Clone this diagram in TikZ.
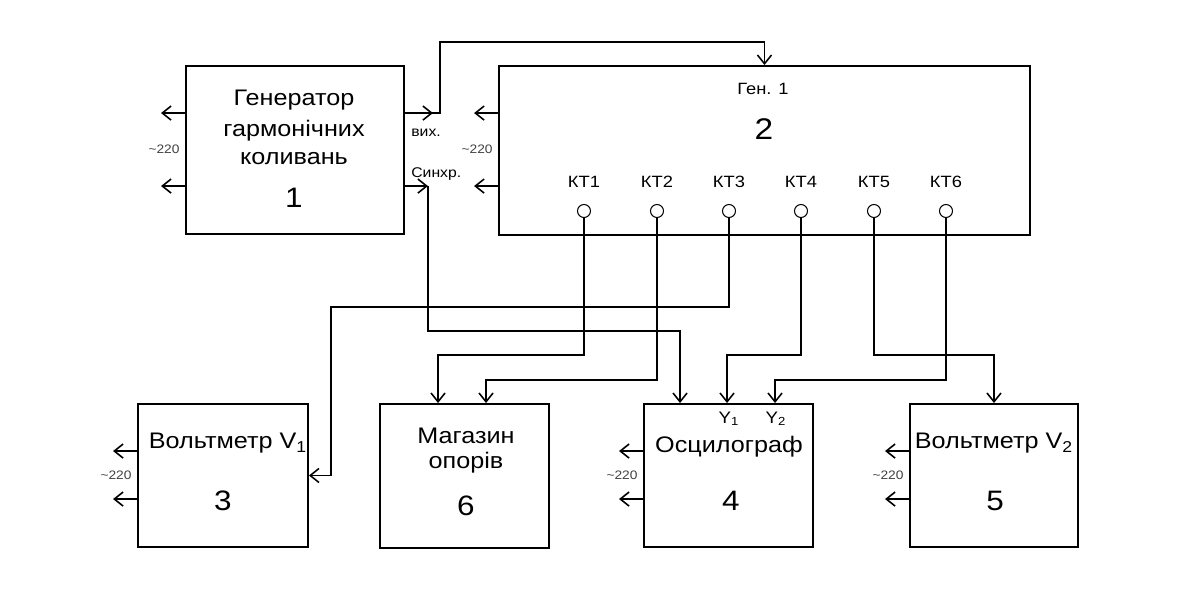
\documentclass[tikz,border=0pt]{standalone}
\usepackage{fontspec}
\setmainfont{Liberation Sans}[FakeStretch=1.12]
\usetikzlibrary{arrows.meta}

\tikzset{
	blok/.style   = {draw, line width=1.1pt, inner sep=0pt},
	wire/.style   = {line width=0.9pt},
	txt/.style    = {font=\fontsize{12.8}{14}\selectfont, anchor=base, inner sep=0pt},
	cifra/.style  = {font=\fontsize{16}{18}\selectfont, anchor=base, inner sep=0pt},
	port/.style   = {font=\fontsize{8}{9}\selectfont, anchor=base west, inner sep=0pt},
	mere/.style   = {font=\fontsize{7}{8}\selectfont, text=black!75, anchor=base, inner sep=0pt},
	kt/.style     = {circle, draw, line width=0.6pt, minimum size=0.26cm, inner sep=0pt},
	ktlab/.style  = {font=\fontsize{9.3}{10}\selectfont, anchor=base, inner sep=0pt},
	>={Straight Barb[length=5pt,width=8pt]}
}

\begin{document}
\begin{tikzpicture}[x=0.02cm, y=-0.02cm]
	\useasboundingbox (0,0) rectangle (1181,591);

	% bloky
	\node[blok, minimum width=4.36cm,  minimum height=3.36cm] (b1) at (295,150)   {};
	\node[blok, minimum width=10.62cm, minimum height=3.38cm] (b2) at (764.5,150.5) {};
	\node[blok, minimum width=3.4cm,   minimum height=2.86cm] (b3) at (223,475.5) {};
	\node[blok, minimum width=3.38cm,  minimum height=2.88cm] (b6) at (464.5,476) {};
	\node[blok, minimum width=3.38cm,  minimum height=2.86cm] (b4) at (728.5,475.5) {};
	\node[blok, minimum width=3.36cm,  minimum height=2.86cm] (b5) at (994,475.5) {};

	% napysy
	\node[txt] (t1a) at (294,106) {Генератор};
	\node[txt] (t1b) at (294,137) {гармонічних};
	\node[txt] (t1c) at (294,165) {коливань};
	\node[cifra] (n1) at (294,208) {1};
	\node[ktlab] (t2) at (763,95) {Ген. 1};
	\node[cifra, font=\fontsize{17}{19}\selectfont] (n2) at (764,140) {2};
	\node[txt] (t3) at (228,449) {Вольтметр V\textsubscript{1}};
	\node[cifra] (n3) at (223,510) {3};
	\node[txt] (t6a) at (466,443) {Магазин};
	\node[txt] (t6b) at (466,469) {опорів};
	\node[cifra] (n6) at (466,516) {6};
	\node[txt] (t4) at (729,453) {Осцилограф};
	\node[cifra] (n4) at (731,510) {4};
	\node[txt] (t5) at (994,449) {Вольтметр V\textsubscript{2}};
	\node[cifra] (n5) at (995,510) {5};

	% merezha ~220
	\foreach \b/\ya/\yb in {b1/48/121, b2/48/121, b3/48/96, b4/48/96, b5/48/96}{
		\draw[wire,->] (\b.north west) ++(0,\ya) -- ++(-24,0);
		\draw[wire,->] (\b.north west) ++(0,\yb) -- ++(-24,0);
		\path (\b.north west) ++(-21,{(\ya+\yb)/2+4}) node[mere] (m\b) {\textasciitilde220};
	}

	% kontrolni tochky
	\foreach \i/\x in {1/584, 2/657, 3/729, 4/801, 5/874, 6/946}{
		\node[kt] (kt\i) at (\x,211) {};
		\node[ktlab] (l\i) at (\x,188) {КТ\i};
	}

	% vyhody generatora
	\path (b1.north east) ++(0,48) coordinate (vyh) ++(0,73) coordinate (synh);
	\node[port] (lv) at (411,137) {вих.};
	\node[port] (ls) at (411,178) {Синхр.};
	\draw[wire,->] (vyh) -- ++(28,0);
	\draw[wire,->] (vyh) -- ++(35,0) -- ++(0,-71) -| (b2.north);
	\draw[wire,->] (synh) -- ++(23,0);

	% vhody
	\path (b6.north west) ++(59,0) coordinate (m1) ++(48,0) coordinate (m2);
	\path (b4.north west) ++(37,0) coordinate (s4) ++(47,0) coordinate (y1) ++(48,0) coordinate (y2);
	\node[ktlab, font=\fontsize{9.5}{10}\selectfont] (ly1) at (729,423) {Y\textsubscript{1}};
	\node[ktlab, font=\fontsize{9.5}{10}\selectfont] (ly2) at (776,423) {Y\textsubscript{2}};

	% zjednannja
	\draw[wire,->] (synh) ++(23,0) -- ++(0,145) -| (s4);
	\draw[wire,->] (kt1) -- ++(0,144) -| (m1);
	\draw[wire,->] (kt2) -- ++(0,169) -| (m2);
	\draw[wire,->] (kt3) -- ++(0,96) -- ++(-398,0) |- (b3.east);
	\draw[wire,->] (kt4) -- ++(0,144) -| (y1);
	\draw[wire,->] (kt5) -- ++(0,144) -| (b5.north);
	\draw[wire,->] (kt6) -- ++(0,169) -| (y2);
\end{tikzpicture}
\end{document}
